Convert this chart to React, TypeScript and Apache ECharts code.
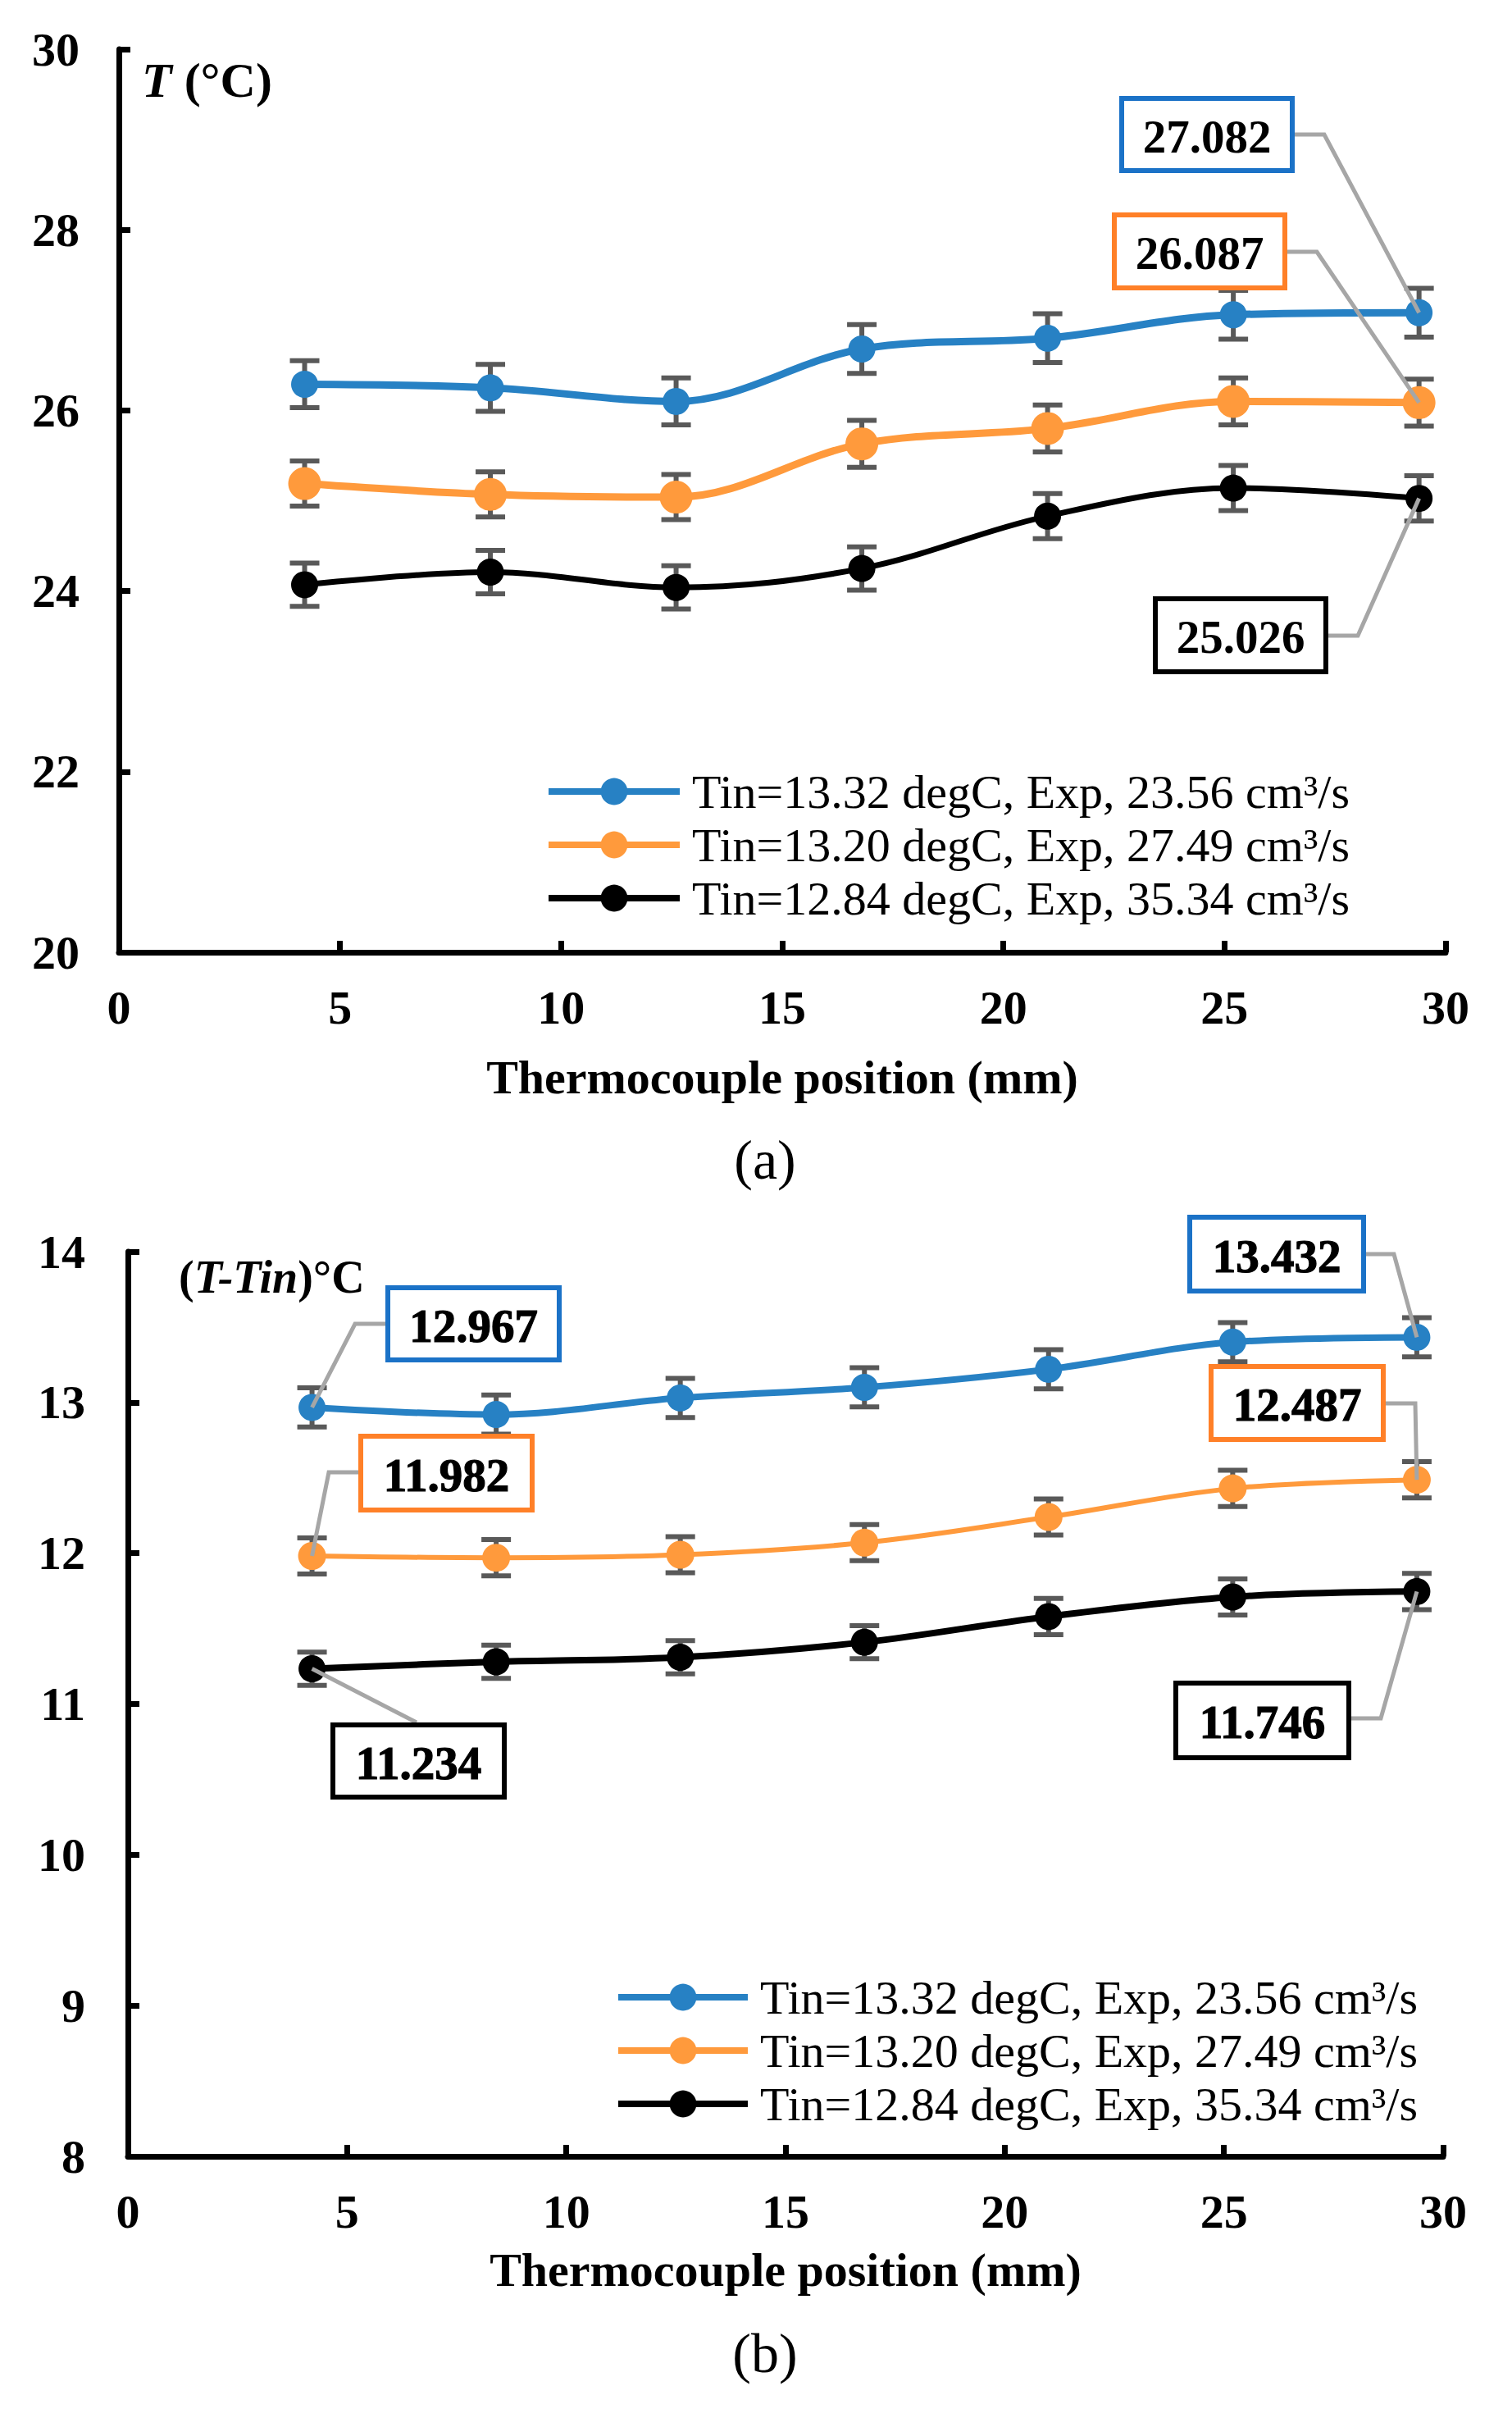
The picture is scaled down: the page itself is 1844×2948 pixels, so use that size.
import React, { useEffect, useRef } from "react";
import * as echarts from "echarts";

// ---------- data ----------
const positions = [4.2, 8.4, 12.6, 16.8, 21.0, 25.2, 29.4];
const seriesNames = [
  "Tin=13.32 degC, Exp, 23.56 cm³/s",
  "Tin=13.20 degC, Exp, 27.49 cm³/s",
  "Tin=12.84 degC, Exp, 35.34 cm³/s",
];
// (a) T (°C)
const topBlue = [26.29, 26.25, 26.1, 26.68, 26.8, 27.06, 27.082];
const topOrange = [25.19, 25.07, 25.04, 25.63, 25.8, 26.1, 26.087];
const topBlack = [24.07, 24.21, 24.04, 24.25, 24.83, 25.14, 25.026];
const topBlueErr = [0.26, 0.26, 0.26, 0.27, 0.27, 0.27, 0.27];
const topOrangeErr = [0.25, 0.25, 0.25, 0.26, 0.26, 0.26, 0.26];
const topBlackErr = [0.24, 0.24, 0.24, 0.24, 0.25, 0.25, 0.25];
// (b) (T-Tin) °C
const botBlue = [12.967, 12.92, 13.03, 13.1, 13.22, 13.4, 13.432];
const botOrange = [11.982, 11.97, 11.99, 12.07, 12.24, 12.43, 12.487];
const botBlack = [11.234, 11.28, 11.31, 11.41, 11.58, 11.71, 11.746];
const botBlueErr = [0.13, 0.13, 0.13, 0.13, 0.13, 0.13, 0.13];
const botOrangeErr = [0.12, 0.12, 0.12, 0.12, 0.12, 0.12, 0.12];
const botBlackErr = [0.11, 0.11, 0.11, 0.11, 0.12, 0.12, 0.12];
const xTicks = [0, 30, 5];
const topYTicks = [20, 30, 2];
const botYTicks = [8, 14, 1];

// ---------- styles ----------
const FONT = "'Times New Roman', 'Liberation Serif', serif";
const BLUE = "#2781C4";
const ORANGE = "#FF9A3C";
const BLACK = "#000000";
const BOX_BLUE = "#1B72C7";
const BOX_ORANGE = "#FF8028";
const ERR = "#595959";
const LEADER = "#A6A6A6";

const annotations = [
  { grid: 0, values: topBlue, index: 6, border: BOX_BLUE, box: [1365, 117, 214, 94], leader: [[1579, 164], [1615, 164]], heavy: false },
  { grid: 0, values: topOrange, index: 6, border: BOX_ORANGE, box: [1356, 259, 214, 95], leader: [[1570, 307], [1606, 307]], heavy: false },
  { grid: 0, values: topBlack, index: 6, border: BLACK, box: [1406, 727, 214, 95], leader: [[1620, 775], [1656, 775]], heavy: false },
  { grid: 1, values: botBlue, index: 0, border: BOX_BLUE, box: [470, 1567, 215, 94], leader: [[470, 1614], [433, 1614]], heavy: true },
  { grid: 1, values: botOrange, index: 0, border: BOX_ORANGE, box: [437, 1748, 215, 96], leader: [[437, 1795], [401, 1795]], heavy: true },
  { grid: 1, values: botBlack, index: 0, border: BLACK, box: [403, 2100, 215, 94], leader: [[508, 2100]], heavy: true },
  { grid: 1, values: botBlue, index: 6, border: BOX_BLUE, box: [1448, 1481, 218, 96], leader: [[1666, 1529], [1700, 1529]], heavy: true },
  { grid: 1, values: botOrange, index: 6, border: BOX_ORANGE, box: [1474, 1663, 216, 95], leader: [[1690, 1711], [1726, 1711]], heavy: true },
  { grid: 1, values: botBlack, index: 6, border: BLACK, box: [1431, 2049, 217, 97], leader: [[1648, 2095], [1684, 2095]], heavy: true },
];

function pairs(vals: number[]) {
  return positions.map((x, i) => [x, vals[i]]);
}
function errData(vals: number[], err: number[]) {
  return positions.map((x, i) => [x, vals[i] - err[i], vals[i] + err[i]]);
}

function errSeries(vals: number[], err: number[], gi: number) {
  return {
    type: "custom",
    xAxisIndex: gi,
    yAxisIndex: gi,
    z: 1,
    silent: true,
    encode: { x: 0, y: [1, 2] },
    data: errData(vals, err),
    renderItem: (params: any, api: any) => {
      const x = api.value(0);
      const lo = api.coord([x, api.value(1)]);
      const hi = api.coord([x, api.value(2)]);
      const hw = 18;
      const style = { stroke: ERR, lineWidth: 6 };
      return {
        type: "group",
        children: [
          { type: "line", shape: { x1: lo[0], y1: lo[1], x2: hi[0], y2: hi[1] }, style },
          { type: "line", shape: { x1: lo[0] - hw, y1: lo[1], x2: lo[0] + hw, y2: lo[1] }, style },
          { type: "line", shape: { x1: hi[0] - hw, y1: hi[1], x2: hi[0] + hw, y2: hi[1] }, style },
        ],
      };
    },
  };
}

function lineSeries(name: string, vals: number[], gi: number, color: string, width: number, size: number) {
  return {
    type: "line",
    name,
    xAxisIndex: gi,
    yAxisIndex: gi,
    z: 3,
    data: pairs(vals),
    smooth: 0.35,
    symbol: "circle",
    symbolSize: size,
    showSymbol: true,
    itemStyle: { color },
    lineStyle: { color, width },
    emphasis: { disabled: true },
  };
}

function xAxis(gi: number, nameGap: number) {
  return {
    type: "value",
    gridIndex: gi,
    min: xTicks[0],
    max: xTicks[1],
    interval: xTicks[2],
    name: "Thermocouple position (mm)",
    nameLocation: "middle",
    nameGap,
    nameTextStyle: { fontFamily: FONT, fontSize: 58, fontWeight: "bold", color: "#000" },
    axisLine: { show: true, lineStyle: { color: "#000", width: 7 } },
    axisTick: { show: true, inside: true, length: 14, lineStyle: { color: "#000", width: 7 } },
    axisLabel: { fontFamily: FONT, fontSize: 58, fontWeight: "bold", color: "#000", margin: 38 },
    splitLine: { show: false },
  };
}

function yAxis(gi: number, t: number[], margin: number) {
  return {
    type: "value",
    gridIndex: gi,
    min: t[0],
    max: t[1],
    interval: t[2],
    axisLine: { show: true, lineStyle: { color: "#000", width: 7 } },
    axisTick: { show: true, inside: true, length: 14, lineStyle: { color: "#000", width: 7 } },
    axisLabel: { fontFamily: FONT, fontSize: 58, fontWeight: "bold", color: "#000", margin },
    splitLine: { show: false },
  };
}

function legend(left: number, top: number, width: number) {
  return {
    orient: "vertical",
    left,
    top,
    itemWidth: width,
    itemHeight: 41,
    itemGap: 7,
    selectedMode: false,
    data: seriesNames,
    lineStyle: { width: 8 },
    textStyle: { fontFamily: FONT, fontSize: 58, lineHeight: 58, color: "#000", padding: [0, 0, 0, 10] },
  };
}

export default function App() {
  const ref = useRef<HTMLDivElement>(null);
  useEffect(() => {
    if (!ref.current) return;
    const chart = echarts.init(ref.current, null, { renderer: "svg" });
    chart.setOption({
      animation: false,
      backgroundColor: "#ffffff",
      grid: [
        { left: 145, top: 60, width: 1618, height: 1101 },
        { left: 156, top: 1526, width: 1604, height: 1103 },
      ],
      xAxis: [xAxis(0, 123), xAxis(1, 109)],
      yAxis: [yAxis(0, topYTicks, 48), yAxis(1, botYTicks, 52)],
      legend: [legend(660, 931, 160), legend(745, 2401, 158)],
      series: [
        errSeries(topBlue, topBlueErr, 0),
        errSeries(topOrange, topOrangeErr, 0),
        errSeries(topBlack, topBlackErr, 0),
        lineSeries(seriesNames[0], topBlue, 0, BLUE, 9, 33),
        lineSeries(seriesNames[1], topOrange, 0, ORANGE, 9, 40),
        lineSeries(seriesNames[2], topBlack, 0, BLACK, 7, 33),
        errSeries(botBlue, botBlueErr, 1),
        errSeries(botOrange, botOrangeErr, 1),
        errSeries(botBlack, botBlackErr, 1),
        lineSeries(seriesNames[0], botBlue, 1, BLUE, 8, 33),
        lineSeries(seriesNames[1], botOrange, 1, ORANGE, 6, 34),
        lineSeries(seriesNames[2], botBlack, 1, BLACK, 8, 33),
      ],
    });

    const graphics: any[] = [
      {
        type: "text",
        x: 173,
        y: 98,
        z: 50,
        style: {
          text: "{i|T}{b| (°C)}",
          verticalAlign: "middle",
          rich: {
            i: { fontFamily: FONT, fontSize: 60, fontWeight: "bold", fontStyle: "italic", fill: "#000" },
            b: { fontFamily: FONT, fontSize: 60, fontWeight: "bold", fill: "#000" },
          },
        },
      },
      {
        type: "text",
        x: 218,
        y: 1557,
        z: 50,
        style: {
          text: "{b|(}{i|T-Tin}{b|)°C}",
          verticalAlign: "middle",
          rich: {
            i: { fontFamily: FONT, fontSize: 56, fontWeight: "bold", fontStyle: "italic", fill: "#000" },
            b: { fontFamily: FONT, fontSize: 56, fontWeight: "bold", fill: "#000" },
          },
        },
      },
      {
        type: "text",
        x: 933,
        y: 1414,
        style: { text: "(a)", fontFamily: FONT, fontSize: 68, fill: "#000", align: "center", verticalAlign: "middle" },
      },
      {
        type: "text",
        x: 933,
        y: 2869,
        style: { text: "(b)", fontFamily: FONT, fontSize: 68, fill: "#000", align: "center", verticalAlign: "middle" },
      },
    ];

    annotations.forEach((a) => {
      const v = a.values[a.index];
      const p = chart.convertToPixel({ gridIndex: a.grid } as any, [positions[a.index], v]) as number[];
      const [bx, by, bw, bh] = a.box;
      graphics.push({
        type: "polyline",
        z: 100,
        shape: { points: [...a.leader, p] },
        style: { stroke: LEADER, lineWidth: 5, fill: null },
      });
      graphics.push({
        type: "rect",
        z: 101,
        shape: { x: bx + 3, y: by + 3, width: bw - 6, height: bh - 6 },
        style: { fill: "#ffffff", stroke: a.border, lineWidth: 6 },
      });
      graphics.push({
        type: "text",
        z: 102,
        x: bx + bw / 2,
        y: by + bh / 2 + 2,
        style: {
          text: v.toFixed(3),
          fontFamily: FONT,
          fontSize: 57,
          fontWeight: "bold",
          fill: "#000",
          align: "center",
          verticalAlign: "middle",
          stroke: a.heavy ? "#000" : undefined,
          lineWidth: a.heavy ? 1.2 : 0,
        },
      });
    });

    chart.setOption({ graphic: graphics });
    return () => chart.dispose();
  }, []);
  return (
    <div
      ref={ref}
      style={{ position: "absolute", left: 0, top: 0, width: 1844, height: 2948, background: "#fff" }}
    />
  );
}
